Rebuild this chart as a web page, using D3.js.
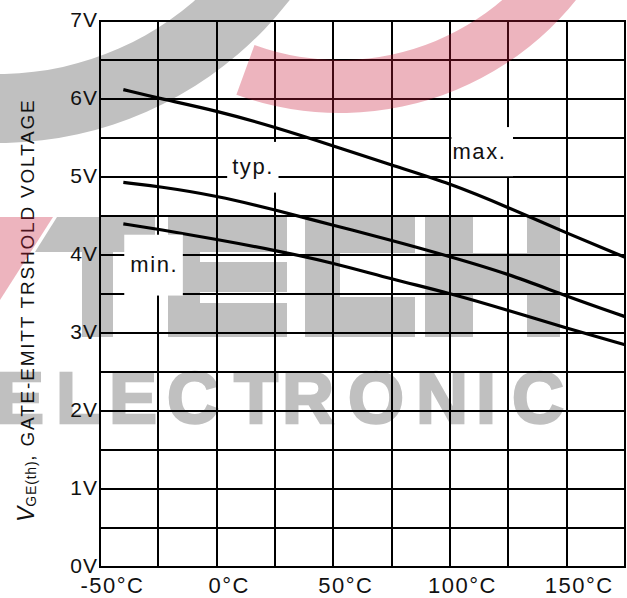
<!DOCTYPE html>
<html>
<head>
<meta charset="utf-8">
<script src="https://cdn.jsdelivr.net/npm/d3@7/dist/d3.min.js"></script>
<style>
  html, body { margin: 0; padding: 0; background: #fff; }
  svg { display: block; }
</style>
</head>
<body>
<svg id="chart" width="627" height="598"></svg>
<script>
// values
var temps = [-40, -25, 0, 25, 50, 75, 100, 125, 150, 175];
var vMax  = [6.12, 6.01, 5.85, 5.64, 5.40, 5.15, 4.92, 4.61, 4.28, 3.97];
var vTyp  = [4.93, 4.88, 4.76, 4.58, 4.38, 4.19, 3.98, 3.76, 3.47, 3.21];
var vMin  = [4.40, 4.33, 4.20, 4.06, 3.90, 3.69, 3.51, 3.29, 3.06, 2.85];

var xTicks = [-50, 0, 50, 100, 150];
var yTicks = [0, 1, 2, 3, 4, 5, 6, 7];
var xGrid = d3.range(-50, 176, 25);
var yGrid = d3.range(0, 7.01, 0.5);

// curve labels: text, left temp, right temp, top volt, bottom volt
var labels = [
  {text: "typ.", t0: 4.5,   t1: 26.5,  v0: 5.45, v1: 4.80},
  {text: "max.", t0: 100.6, t1: 127,   v0: 5.64, v1: 5.01},
  {text: "min.", t0: -39.6, t1: -14.5, v0: 4.26, v1: 3.48}
];
var labelPad = [5, 1, 6];

var FONT = "'Liberation Sans', Arial, Helvetica, sans-serif";
var svg = d3.select("#chart");
var deg = Math.PI / 180;

var x = d3.scaleLinear().domain([-50, 175]).range([100, 625]);
var y = d3.scaleLinear().domain([0, 7]).range([567, 21]);

// gray part of the watermark sits under the chart
var wmGray = svg.append("g").attr("pointer-events", "none").attr("fill", "#c0c0c0");
wmGray.append("path")
    .attr("transform", "translate(-2,-226)")
    .attr("d", d3.arc()({innerRadius: 300, outerRadius: 369, startAngle: 100 * deg, endAngle: 190 * deg}));

// TECH blocks
var blocks = [
  [82, 252, 31, 85],                                            // T stem
  [168, 217, 32, 120], [200, 217, 87, 35], [200, 262, 87, 30], [200, 303, 87, 34], // E
  [305, 217, 110, 36], [305, 253, 35, 44], [305, 297, 110, 40], // C
  [425, 217, 48, 120], [473, 253, 54, 40], [527, 217, 33, 120]  // H
];
wmGray.append("polygon").attr("points", "57,217 155,217 155,252 35,252");
wmGray.selectAll("rect.b").data(blocks).enter().append("rect")
    .attr("x", function(d) { return d[0]; }).attr("y", function(d) { return d[1]; })
    .attr("width", function(d) { return d[2]; }).attr("height", function(d) { return d[3]; });

// ELECTRONIC letters
var wmLetters = ["E", "L", "E", "C", "T", "R", "O", "N", "I", "C"];
var wmCenter  = [20, 78, 133, 193, 256, 308, 376, 442, 486, 538];
wmGray.selectAll("text.w").data(wmLetters).enter().append("text")
    .attr("x", function(d, i) { return wmCenter[i]; })
    .attr("y", 423)
    .attr("text-anchor", "middle")
    .attr("font-family", FONT).attr("font-weight", "bold").attr("font-size", 72)
    .attr("stroke", "#c0c0c0").attr("stroke-width", 2.5)
    .text(function(d) { return d; });

// grid
var grid = svg.append("g").attr("stroke", "#000").attr("stroke-width", 2);
grid.selectAll("line.v").data(xGrid).enter().append("line")
    .attr("class", "v")
    .attr("x1", function(d) { return Math.round(x(d)); })
    .attr("x2", function(d) { return Math.round(x(d)); })
    .attr("y1", y(7) - 1).attr("y2", y(0) + 1);
grid.selectAll("line.h").data(yGrid).enter().append("line")
    .attr("class", "h")
    .attr("y1", function(d) { return Math.round(y(d)); })
    .attr("y2", function(d) { return Math.round(y(d)); })
    .attr("x1", x(-50) - 1).attr("x2", x(175) + 1);

// curves
var line = d3.line()
    .x(function(d) { return x(d[0]); })
    .y(function(d) { return y(d[1]); })
    .curve(d3.curveBasis);

[vMax, vTyp, vMin].forEach(function(vals) {
  svg.append("path")
    .datum(temps.map(function(t, i) { return [t, vals[i]]; }))
    .attr("fill", "none")
    .attr("stroke", "#000")
    .attr("stroke-width", 3.2)
    .attr("d", line);
});

// label boxes
labels.forEach(function(l, i) {
  svg.append("rect")
    .attr("x", x(l.t0)).attr("y", y(l.v0))
    .attr("width", x(l.t1) - x(l.t0))
    .attr("height", y(l.v1) - y(l.v0))
    .attr("fill", "#fff");
  svg.append("text")
    .attr("x", x(l.t0) + labelPad[i])
    .attr("y", (y(l.v0) + y(l.v1)) / 2 + 7)
    .attr("font-family", FONT)
    .attr("font-size", 22)
    .attr("letter-spacing", 1.6)
    .attr("fill", "#111")
    .text(l.text);
});

// axes (labels only)
var xAxis = svg.append("g")
    .attr("transform", "translate(0,593)")
    .call(d3.axisBottom(x).tickValues(xTicks).tickSize(0).tickPadding(0)
      .tickFormat(function(d) { return d + "°C"; }));
xAxis.select(".domain").remove();
xAxis.selectAll("text")
    .attr("dy", 0).attr("dx", 12)
    .attr("font-family", FONT).attr("font-size", 22)
    .attr("letter-spacing", 1.5).attr("fill", "#111");

var yAxis = svg.append("g")
    .attr("transform", "translate(98,0)")
    .call(d3.axisLeft(y).tickValues(yTicks).tickSize(0).tickPadding(0)
      .tickFormat(function(d) { return d + "V"; }));
yAxis.select(".domain").remove();
yAxis.selectAll("text")
    .attr("dy", 5)
    .attr("font-family", FONT).attr("font-size", 21)
    .attr("letter-spacing", 1).attr("fill", "#111");

// axis title
var title = svg.append("text")
    .attr("transform", "translate(34,522) rotate(-90)")
    .attr("font-family", FONT)
    .attr("fill", "#111");
title.append("tspan").attr("font-style", "italic").attr("font-size", 23).text("V");
title.append("tspan").attr("font-size", 14).attr("dy", 1.5).attr("letter-spacing", 0.8).text("GE(th)");
title.append("tspan").attr("font-size", 19).attr("dy", -1.5).attr("letter-spacing", 1.8)
    .text(", GATE-EMITT TRSHOLD VOLTAGE");

// pink part of the watermark, half transparent over the chart
var wmPink = svg.append("g").attr("pointer-events", "none").attr("opacity", 0.33).attr("fill", "rgb(200,30,60)");
wmPink.append("path")
    .attr("transform", "translate(340,-190)")
    .attr("d", d3.arc()({innerRadius: 250, outerRadius: 303, startAngle: 115 * deg, endAngle: 200 * deg}));
wmPink.append("polygon").attr("points", "0,217 53,217 0,300");
</script>
</body>
</html>
